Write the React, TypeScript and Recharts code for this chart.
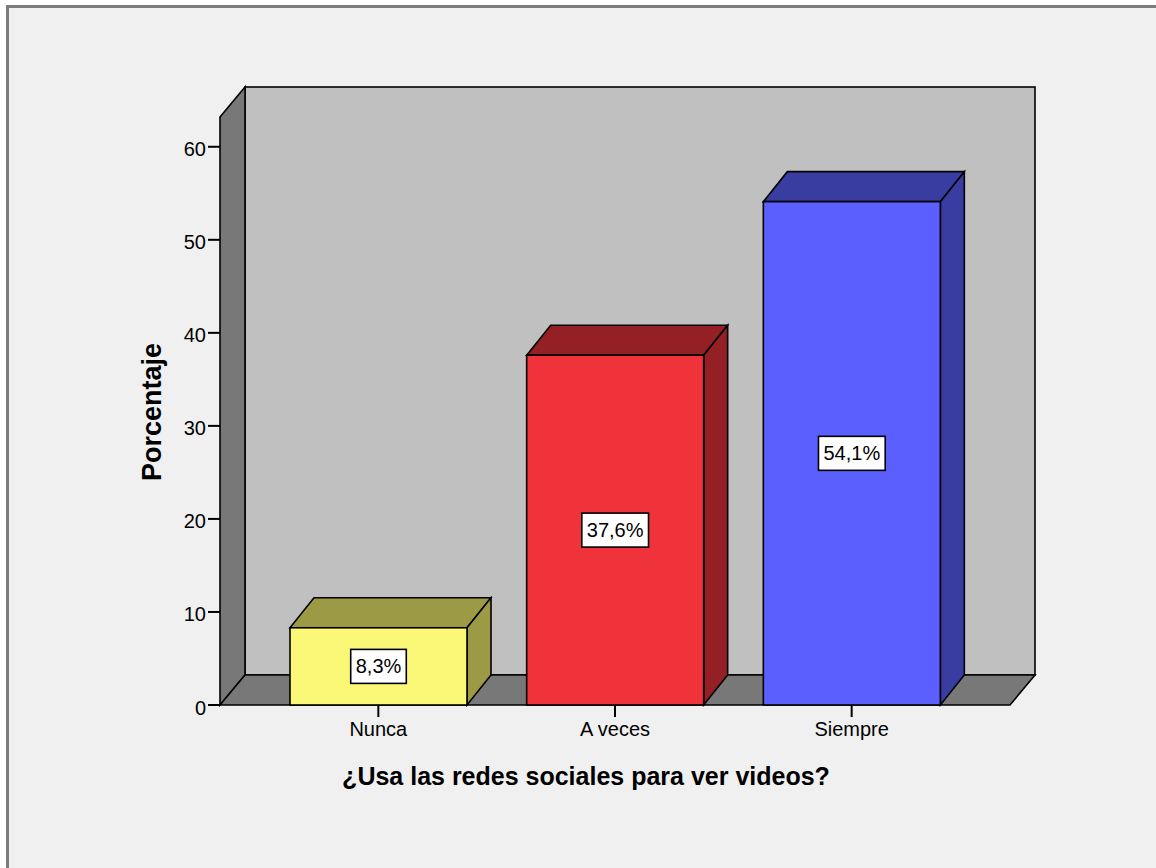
import React from 'react';
import { BarChart, Bar, XAxis, YAxis, ReferenceArea, LabelList, Label, Cell } from 'recharts';

const categories = ['Nunca', 'A veces', 'Siempre'];
const percentages = [8.3, 37.6, 54.1];
const yTicks = [0, 10, 20, 30, 40, 50, 60];

const frontColors = ['#fbf877', '#f0323a', '#5a5ffe'];
const shadeColors = ['#9d9a45', '#941f24', '#393ca0'];

const chartData = categories.map((name, i) => ({ name, value: percentages[i] }));

const FONT = '"Liberation Sans", Arial, sans-serif';
const PAD = 40;
const DX = 24;
const DY = 30;

// rough Arial advance widths for the value labels
const charW = (c: string) => (c === ',' ? 0.278 : c === '%' ? 0.889 : 0.556);

function Walls(props: any) {
  const { y, height } = props;
  const x = props.x - PAD;
  const width = props.width + PAD * 2;
  const bottom = y + height;
  const wx = 25;
  return (
    <g>
      <rect x={x + wx} y={y - DY} width={width} height={height} fill="#c0c0c0" stroke="#000" strokeWidth={1.6} />
      <polygon
        points={`${x},${y} ${x + wx},${y - DY} ${x + wx},${bottom - DY} ${x},${bottom}`}
        fill="#787878"
        stroke="#000"
        strokeWidth={1.6}
      />
      <polygon
        points={`${x},${bottom} ${x + wx},${bottom - DY} ${x + width + wx},${bottom - DY} ${x + width},${bottom}`}
        fill="#787878"
        stroke="#000"
        strokeWidth={1.6}
      />
    </g>
  );
}

function Bar3D(props: any) {
  const { x, y, width, height, index } = props;
  const side = shadeColors[index];
  return (
    <g>
      <polygon
        points={`${x},${y} ${x + DX},${y - DY} ${x + width + DX},${y - DY} ${x + width},${y}`}
        fill={side}
        stroke="#000"
        strokeWidth={1.6}
      />
      <polygon
        points={`${x + width},${y} ${x + width + DX},${y - DY} ${x + width + DX},${y + height - DY} ${x + width},${y + height}`}
        fill={side}
        stroke="#000"
        strokeWidth={1.6}
      />
      <rect x={x} y={y} width={width} height={height} fill={frontColors[index]} stroke="#000" strokeWidth={1.6} />
    </g>
  );
}

function ValueBox(props: any) {
  const { x, y, width, height, value } = props;
  const text = value.toFixed(1).replace('.', ',') + '%';
  const fs = 20;
  const w = text.split('').reduce((s: number, c: string) => s + charW(c), 0) * fs + 10;
  const h = 34;
  const cx = x + width / 2;
  const cy = y + height / 2;
  return (
    <g>
      <rect x={cx - w / 2} y={cy - h / 2} width={w} height={h} fill="#fff" stroke="#000" strokeWidth={1.6} />
      <text x={cx} y={cy + 7} textAnchor="middle" fontSize={fs} fontFamily={FONT} fill="#000">
        {text}
      </text>
    </g>
  );
}

function YTick(props: any) {
  const { x, y, payload } = props;
  return (
    <text x={x} y={y + 9.5} textAnchor="end" fontSize={20} fontFamily={FONT} fill="#000">
      {payload.value}
    </text>
  );
}

function XTick(props: any) {
  const { x, y, payload } = props;
  return (
    <text x={x} y={y + 19} textAnchor="middle" fontSize={20} fontFamily={FONT} fill="#000">
      {payload.value}
    </text>
  );
}

export default function App() {
  return (
    <div style={{ position: 'absolute', left: 0, top: 0, width: 1156, height: 868, background: '#fff', overflow: 'hidden' }}>
      <div
        style={{
          position: 'absolute',
          left: 6,
          top: 5,
          width: 1200,
          height: 900,
          background: '#f0f0f0',
          borderLeft: '3px solid #7c7c7c',
          borderTop: '3px solid #7c7c7c',
        }}
      />
      <div style={{ position: 'absolute', left: 0, top: 0 }}>
        <BarChart
          width={1156}
          height={868}
          data={chartData}
          margin={{ top: 117, right: 146, bottom: 133, left: 160 }}
          barSize={177}
        >
          <ReferenceArea y1={0} y2={63.2} shape={<Walls />} ifOverflow="visible" />
          <XAxis
            dataKey="name"
            height={30}
            padding={{ left: PAD, right: PAD }}
            axisLine={false}
            tickSize={12}
            tickMargin={0}
            tickLine={{ stroke: '#000', strokeWidth: 2 }}
            tick={<XTick />}
          >
            <Label
              content={({ viewBox }: any) => (
                <text
                  x={viewBox.x + viewBox.width / 2 - 29}
                  y={viewBox.y + 80}
                  textAnchor="middle"
                  fontSize={25}
                  fontWeight="bold"
                  fontFamily={FONT}
                  fill="#000"
                >
                  ¿Usa las redes sociales para ver videos?
                </text>
              )}
            />
          </XAxis>
          <YAxis
            width={60}
            domain={[0, 63.2]}
            ticks={yTicks}
            axisLine={false}
            tickSize={12}
            tickMargin={2}
            tickLine={{ stroke: '#000', strokeWidth: 2 }}
            tick={<YTick />}
          >
            <Label
              content={({ viewBox }: any) => {
                const cx = viewBox.x + 1;
                const cy = viewBox.y + viewBox.height / 2 + 1;
                return (
                  <text
                    x={cx}
                    y={cy}
                    transform={`rotate(-90 ${cx} ${cy})`}
                    textAnchor="middle"
                    fontSize={27}
                    fontWeight="bold"
                    fontFamily={FONT}
                    fill="#000"
                  >
                    Porcentaje
                  </text>
                );
              }}
            />
          </YAxis>
          <Bar dataKey="value" shape={<Bar3D />} isAnimationActive={false}>
            {chartData.map((_, i) => (
              <Cell key={i} fill={frontColors[i]} />
            ))}
            <LabelList dataKey="value" content={<ValueBox />} />
          </Bar>
        </BarChart>
      </div>
    </div>
  );
}
